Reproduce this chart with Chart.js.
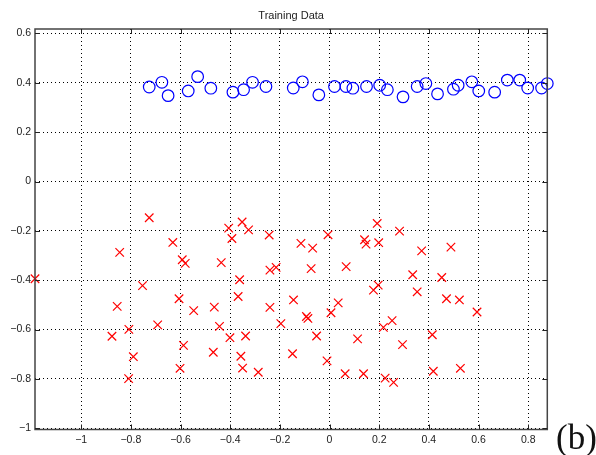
<!DOCTYPE html>
<html>
<head>
<meta charset="utf-8">
<script src="https://cdn.jsdelivr.net/npm/chart.js@4/dist/chart.umd.min.js"></script>
<style>
html,body{margin:0;padding:0;background:#fff;}
#wrap{width:596px;height:455px;}
</style>
</head>
<body>
<div id="wrap"><canvas id="c" width="596" height="455"></canvas></div>
<script>
const chartTitle = 'Training Data';
const panelLabel = '(b)';

const classAX = [-0.726,-0.675,-0.650,-0.569,-0.531,-0.478,-0.389,-0.346,-0.310,-0.256,-0.146,-0.109,-0.043,0.020,0.066,0.094,0.149,0.202,0.233,0.296,0.353,0.388,0.435,0.499,0.518,0.573,0.601,0.665,0.716,0.766,0.798,0.854,0.877];
const classAY = [0.383,0.402,0.348,0.367,0.425,0.378,0.362,0.372,0.402,0.385,0.379,0.404,0.351,0.385,0.385,0.378,0.385,0.390,0.372,0.343,0.385,0.397,0.355,0.374,0.390,0.404,0.367,0.362,0.411,0.411,0.379,0.379,0.397];

const classBX = [-1.186,-0.726,-0.845,-0.855,-0.753,-0.876,-0.808,-0.790,-0.809,-0.692,-0.631,-0.593,-0.581,-0.606,-0.547,-0.588,-0.602,-0.464,-0.468,-0.443,-0.436,-0.406,-0.393,-0.352,-0.326,-0.362,-0.368,-0.401,-0.338,-0.357,-0.350,-0.287,-0.243,-0.240,-0.215,-0.240,-0.196,-0.149,-0.145,-0.115,-0.068,-0.006,-0.074,-0.093,-0.087,-0.052,0.006,0.035,-0.010,0.063,0.137,0.113,0.067,0.141,0.147,0.192,0.198,0.177,0.196,0.217,0.252,0.224,0.258,0.294,0.282,0.371,0.335,0.353,0.414,0.418,0.452,0.471,0.489,0.523,0.527,0.594];
const classBY = [-0.394,-0.147,-0.287,-0.506,-0.422,-0.627,-0.599,-0.710,-0.799,-0.581,-0.247,-0.317,-0.332,-0.475,-0.523,-0.664,-0.757,-0.509,-0.692,-0.587,-0.329,-0.189,-0.231,-0.164,-0.196,-0.398,-0.466,-0.633,-0.626,-0.708,-0.756,-0.773,-0.217,-0.359,-0.348,-0.510,-0.576,-0.698,-0.480,-0.251,-0.270,-0.216,-0.353,-0.547,-0.555,-0.626,-0.532,-0.492,-0.727,-0.779,-0.779,-0.638,-0.345,-0.236,-0.254,-0.170,-0.248,-0.440,-0.420,-0.591,-0.564,-0.797,-0.814,-0.661,-0.201,-0.281,-0.378,-0.447,-0.621,-0.769,-0.389,-0.475,-0.266,-0.480,-0.757,-0.529];

const xTicks = [-1,-0.8,-0.6,-0.4,-0.2,0,0.2,0.4,0.6,0.8];
const yTicks = [-1,-0.8,-0.6,-0.4,-0.2,0,0.2,0.4,0.6];

const toPts = (xs, ys) => xs.map((x, i) => ({x: x, y: ys[i]}));
const fmt = v => { const r = Math.round(v * 10) / 10; return r === 0 ? '0' : (r < 0 ? '\u2212' : '') + Math.abs(r); };

const frame = {
  id: 'frame',
  afterDraw(chart) {
    const {ctx, chartArea: a, scales} = chart;
    ctx.save();
    ctx.strokeStyle = '#444';
    ctx.lineWidth = 1.5;
    ctx.strokeRect(a.left, a.top, a.right - a.left, a.bottom - a.top);
    ctx.lineWidth = 1;
    ctx.strokeStyle = '#222';
    const L = 5;
    ctx.beginPath();
    xTicks.forEach(v => {
      const px = Math.round(scales.x.getPixelForValue(v)) + 0.5;
      ctx.moveTo(px, a.bottom); ctx.lineTo(px, a.bottom - L);
      ctx.moveTo(px, a.top); ctx.lineTo(px, a.top + L);
    });
    yTicks.forEach(v => {
      const py = Math.round(scales.y.getPixelForValue(v)) + 0.5;
      ctx.moveTo(a.left, py); ctx.lineTo(a.left + L, py);
      ctx.moveTo(a.right, py); ctx.lineTo(a.right - L, py);
    });
    ctx.stroke();
    ctx.fillStyle = '#222';
    ctx.font = '11px "Liberation Sans", Arial, sans-serif';
    ctx.textAlign = 'center';
    ctx.textBaseline = 'middle';
    ctx.fillText(chartTitle, (a.left + a.right) / 2, 16);
    ctx.fillStyle = '#111';
    ctx.font = '35px "Liberation Serif", "Times New Roman", serif';
    ctx.textAlign = 'left';
    ctx.textBaseline = 'alphabetic';
    ctx.fillText(panelLabel, 556, 449);
    ctx.restore();
  }
};

new Chart(document.getElementById('c'), {
  type: 'scatter',
  data: {
    datasets: [
      {
        data: toPts(classAX, classAY),
        pointStyle: 'circle',
        pointRadius: 5.8,
        pointBorderWidth: 1.2,
        borderColor: '#0000ff',
        backgroundColor: 'rgba(0,0,0,0)',
        clip: false
      },
      {
        data: toPts(classBX, classBY),
        pointStyle: 'crossRot',
        pointRadius: 6,
        pointBorderWidth: 1.2,
        borderColor: '#ff0000',
        backgroundColor: '#ff0000',
        clip: false
      }
    ]
  },
  options: {
    responsive: false,
    animation: false,
    events: [],
    layout: { padding: { top: 29, right: 48.7, left: 0, bottom: 0 } },
    plugins: { legend: { display: false }, tooltip: { enabled: false }, title: { display: false } },
    scales: {
      x: {
        type: 'linear',
        min: -1.186,
        max: 0.877,
        afterFit(s) { s.height = 25.5; },
        ticks: {
          stepSize: 0.2,
          includeBounds: false,
          color: '#222',
          padding: 4,
          maxRotation: 0,
          font: { family: '"Liberation Sans", Arial, sans-serif', size: 10.5 },
          callback: v => fmt(v)
        },
        grid: { color: '#000', lineWidth: 1, drawTicks: false },
        border: { display: false, dash: [1, 3] }
      },
      y: {
        type: 'linear',
        min: -1.005,
        max: 0.618,
        afterFit(s) { s.width = 35; },
        ticks: {
          stepSize: 0.2,
          includeBounds: false,
          color: '#222',
          padding: 4,
          font: { family: '"Liberation Sans", Arial, sans-serif', size: 10.5 },
          callback: v => fmt(v)
        },
        grid: { color: '#000', lineWidth: 1, drawTicks: false },
        border: { display: false, dash: [1, 3] }
      }
    }
  },
  plugins: [frame]
});
</script>
</body>
</html>
